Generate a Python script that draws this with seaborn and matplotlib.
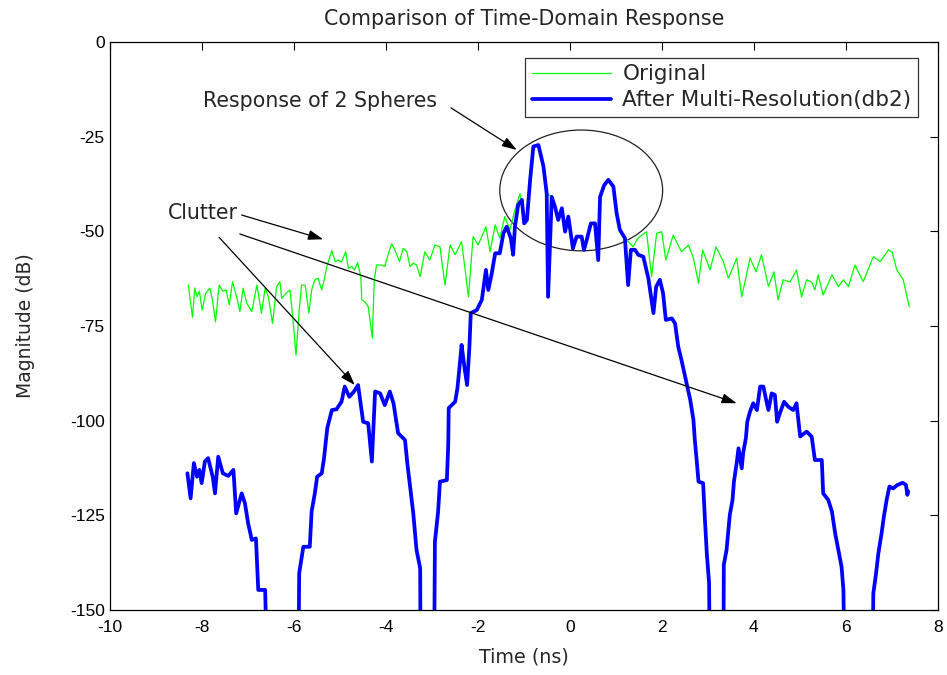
import numpy as np
import pandas as pd
import matplotlib
matplotlib.use("Agg")
import matplotlib.pyplot as plt
from matplotlib.patches import Ellipse
import seaborn as sns

# ---- data ----
orig_t = [-8.29, -8.20, -8.15, -8.10, -8.05, -7.99, -7.91, -7.82, -7.76, -7.70, -7.62, -7.54, -7.47, -7.40,
          -7.33, -7.24, -7.17, -7.10, -7.02, -6.91, -6.80, -6.70, -6.62, -6.55, -6.46, -6.37, -6.30, -6.26,
          -6.17, -6.08, -6.01, -5.95, -5.88, -5.83, -5.75, -5.67, -5.61, -5.54, -5.47, -5.39, -5.33, -5.28,
          -5.17, -5.10, -5.03, -4.96, -4.87, -4.81, -4.74, -4.68, -4.61, -4.54, -4.52, -4.45, -4.38, -4.29,
          -4.25, -4.20, -4.09, -4.02, -3.94, -3.87, -3.80, -3.70, -3.62, -3.54, -3.47, -3.40, -3.33, -3.25,
          -3.15, -3.04, -2.93, -2.82, -2.71, -2.60, -2.49, -2.35, -2.20, -2.10, -1.99, -1.82, -1.73, -1.62,
          -1.52, -1.41, -1.30, -1.19, -1.08, -0.99, -0.93, -0.86, -0.79, -0.68, -0.57, -0.50, -0.39, -0.32,
          -0.25, -0.17, -0.10, -0.03, 0.07, 0.15, 0.26, 0.31, 0.37, 0.46, 0.55, 0.62, 0.66, 0.75, 0.84,
          0.95, 1.02, 1.09, 1.20, 1.38, 1.48, 1.67, 1.78, 1.89, 2.00, 2.09, 2.25, 2.43, 2.58, 2.69, 2.80,
          2.89, 3.05, 3.18, 3.34, 3.45, 3.63, 3.74, 3.92, 4.05, 4.17, 4.32, 4.44, 4.53, 4.64, 4.79, 4.93,
          5.04, 5.15, 5.26, 5.33, 5.40, 5.51, 5.70, 5.84, 5.95, 6.06, 6.20, 6.38, 6.60, 6.75, 6.93, 7.01,
          7.11, 7.25, 7.38]
orig_db = [-64.2, -72.7, -65.0, -67.3, -65.8, -70.8, -66.3, -65.0, -68.6, -73.9, -64.2, -65.8, -65.5, -69.4,
           -63.3, -67.3, -71.2, -65.0, -69.0, -71.2, -64.2, -71.6, -65.0, -67.3, -74.3, -64.6, -63.3, -67.7,
           -66.4, -65.5, -73.9, -82.7, -70.8, -64.2, -64.2, -71.6, -65.5, -62.8, -62.4, -65.5, -62.4, -59.3,
           -55.1, -58.0, -57.6, -58.1, -55.4, -59.8, -59.3, -60.2, -58.3, -62.0, -68.1, -68.6, -69.9, -78.2,
           -63.3, -58.9, -58.9, -59.3, -55.8, -53.3, -54.9, -58.0, -54.5, -55.4, -59.3, -58.4, -58.9, -62.0,
           -55.4, -57.6, -53.6, -54.1, -64.2, -53.6, -56.2, -52.7, -67.3, -51.4, -53.6, -48.8, -55.4, -48.3,
           -51.8, -46.1, -49.6, -44.4, -40.0, -47.9, -47.0, -36.4, -27.6, -27.2, -32.9, -40.0, -40.9, -43.5,
           -47.0, -43.9, -50.1, -46.1, -54.5, -51.4, -51.4, -54.9, -52.3, -47.9, -47.9, -57.6, -40.9, -37.8, -36.4,
           -38.2, -45.2, -49.6, -51.8, -54.1, -51.8, -50.1, -62.0, -50.5, -50.1, -57.6, -51.0, -55.4, -53.6, -57.1, -63.7,
           -54.9, -60.2, -54.1, -58.0, -62.4, -57.1, -67.3, -57.1, -60.7, -56.2, -64.6, -60.7, -68.1, -62.8, -63.4, -60.2,
           -67.3, -62.8, -63.4, -65.5, -61.5, -66.8, -61.5, -64.6, -62.8, -64.6, -58.9, -63.3, -56.7, -58.0, -54.9, -55.5,
           -60.2, -62.8, -69.9]

mr_t = [-8.31, -8.24, -8.17, -8.10, -8.05, -8.00, -7.93, -7.86, -7.76, -7.71, -7.64, -7.54, -7.42, -7.31,
        -7.25, -7.13, -7.06, -6.99, -6.91, -6.82, -6.77, -6.62, -6.57, -5.90, -5.88, -5.79, -5.65, -5.61,
        -5.54, -5.49, -5.39, -5.34, -5.27, -5.17, -5.07, -4.96, -4.89, -4.79, -4.69, -4.60, -4.49, -4.38,
        -4.30, -4.23, -4.12, -4.02, -3.91, -3.83, -3.73, -3.58, -3.53, -3.47, -3.40, -3.33, -3.25, -3.24,
        -2.95, -2.93, -2.86, -2.82, -2.67, -2.64, -2.63, -2.49, -2.44, -2.38, -2.35, -2.28, -2.23, -2.18,
        -2.15, -2.02, -1.91, -1.82, -1.77, -1.70, -1.62, -1.52, -1.44, -1.37, -1.28, -1.23, -1.19, -1.12,
        -1.04, -0.99, -0.93, -0.86, -0.79, -0.68, -0.57, -0.50, -0.47, -0.39, -0.32, -0.25, -0.17, -0.10,
        -0.03, 0.07, 0.15, 0.26, 0.31, 0.37, 0.46, 0.55, 0.62, 0.66, 0.75, 0.84, 0.95, 1.02, 1.09, 1.20,
        1.27, 1.33, 1.42, 1.49, 1.60, 1.71, 1.82, 1.88, 1.96, 2.03, 2.09, 2.22, 2.29, 2.36, 2.43, 2.54,
        2.62, 2.69, 2.72, 2.76, 2.80, 2.90, 2.94, 2.98, 3.03, 3.05, 3.34, 3.35, 3.41, 3.45, 3.48, 3.54,
        3.57, 3.63, 3.67, 3.74, 3.77, 3.83, 3.86, 3.92, 3.99, 4.07, 4.14, 4.21, 4.27, 4.32, 4.39, 4.46,
        4.51, 4.57, 4.66, 4.75, 4.86, 4.93, 5.01, 5.15, 5.26, 5.33, 5.48, 5.51, 5.62, 5.70, 5.77, 5.84,
        5.91, 5.95, 5.98, 6.58, 6.60, 6.66, 6.71, 6.78, 6.83, 6.89, 6.95, 7.03, 7.12, 7.24, 7.31, 7.34, 7.36]
mr_db = [-113.9, -120.5, -111.2, -114.8, -113.0, -116.5, -110.8, -109.9, -114.8, -119.2, -109.5, -113.9, -114.6, -113.0,
         -124.5, -119.2, -121.8, -127.1, -131.5, -131.1, -144.7, -144.7, -170.0, -170.0, -140.3, -133.3, -133.3, -124.0,
         -119.2, -114.8, -113.9, -109.9, -102.0, -97.2, -97.0, -95.0, -91.0, -93.7, -92.3, -90.6, -100.3, -100.7,
         -110.8, -92.3, -92.8, -95.9, -92.3, -95.4, -103.3, -105.1, -111.2, -117.4, -124.5, -134.1, -139.0, -170.0,
         -170.0, -132.0, -124.0, -116.1, -115.7, -106.4, -96.7, -95.0, -91.4, -84.0, -80.0, -86.6, -90.6, -80.5,
         -71.6, -70.8, -68.1, -60.2, -65.5, -61.5, -55.8, -55.8, -50.5, -48.8, -51.8, -56.2, -48.8, -43.0,
         -41.7, -47.9, -47.0, -36.4, -27.6, -27.2, -32.9, -40.0, -67.3, -40.9, -43.5, -47.0, -43.9, -50.1,
         -46.1, -54.5, -51.4, -51.4, -54.9, -52.3, -47.9, -47.9, -57.6, -40.9, -37.8, -36.4, -38.2, -45.2, -49.6, -51.8,
         -64.2, -54.9, -54.9, -56.2, -56.7, -62.4, -71.6, -64.6, -62.8, -66.4, -73.4, -73.0, -74.3, -80.5, -84.0, -90.1,
         -94.5, -99.8, -105.1, -110.4, -116.1, -116.5, -126.2, -135.0, -142.9, -170.0, -170.0, -138.1, -134.1, -128.9, -124.9, -120.9,
         -116.1, -111.2, -107.3, -112.6, -108.6, -104.6, -100.3, -97.6, -95.4, -97.2, -91.0, -91.0, -94.5, -97.2, -92.8, -93.2,
         -100.3, -98.0, -95.0, -96.3, -97.2, -95.4, -104.2, -102.9, -104.2, -110.4, -110.4, -119.2, -120.9, -124.0, -129.7, -134.1,
         -138.6, -144.7, -170.0, -170.0, -145.6, -140.3, -135.0, -129.7, -125.3, -120.9, -117.4, -117.9, -117.0, -116.4, -117.0, -119.6, -118.7]

series_names = ["Original", "After Multi-Resolution(db2)"]
x_ticks = [-10, -8, -6, -4, -2, 0, 2, 4, 6, 8]
y_ticks = [0, -25, -50, -75, -100, -125, -150]

df = pd.DataFrame({
    "t": orig_t + mr_t,
    "db": orig_db + mr_db,
    "series": [series_names[0]] * len(orig_t) + [series_names[1]] * len(mr_t),
})

sns.set_style("white")
plt.rcParams["font.family"] = ["Liberation Sans", "DejaVu Sans"]
TXT = ["DejaVu Sans"]

fig = plt.figure(figsize=(9.47, 6.75), dpi=100)
ax = fig.add_axes([0.1158, 0.0963, 0.8744, 0.8415])

palette = {series_names[0]: "#00ff00", series_names[1]: "#0000ff"}
sns.lineplot(data=df, x="t", y="db", hue="series", palette=palette, sort=False,
             estimator=None, size="series", sizes={series_names[0]: 0.9, series_names[1]: 2.7},
             ax=ax, legend=True)

ax.set_xlim(-10, 8)
ax.set_ylim(-150, 0)
ax.set_xticks(x_ticks)
ax.set_yticks(y_ticks)
ax.set_xticklabels([str(v) for v in x_ticks])
ax.set_yticklabels([str(v) for v in y_ticks])
ax.tick_params(direction="in", top=True, right=True, length=6, width=0.8,
               labelsize=12.5, colors="black")
ax.tick_params(axis="x", pad=7)
for s in ax.spines.values():
    s.set_visible(True)
    s.set_color("black")
    s.set_linewidth(0.9)

ax.set_xlabel("Time (ns)", fontsize=13.8, family=TXT, labelpad=9)
ax.set_ylabel("Magnitude (dB)", fontsize=13.5, family=TXT, labelpad=25)
ax.set_title("Comparison of Time-Domain Response", fontsize=14.9, family=TXT, pad=12)

leg = ax.legend(loc="upper right", bbox_to_anchor=(0.976, 0.972),
                prop={"family": TXT, "size": 15.5},
                frameon=True, fancybox=False, edgecolor="black", handlelength=3.7,
                borderpad=0.3, labelspacing=0.28, handletextpad=0.5, borderaxespad=0)
leg.get_frame().set_linewidth(0.9)
hl = leg.get_lines()
if len(hl) == 2:
    hl[0].set_linewidth(0.9)
    hl[1].set_linewidth(2.7)

# ellipse round the two sphere responses
ax.add_patch(Ellipse((0.25, -39.2), 3.54, 31.9, fill=False, edgecolor="#222222", lw=0.9))

arrowprops = dict(arrowstyle="-|>,head_length=0.9,head_width=0.3", color="black", lw=0.9,
                  shrinkA=0, shrinkB=0)
ax.text(-7.97, -15.6, "Response of 2 Spheres", fontsize=14.8, family=TXT, va="center", ha="left")
ax.annotate("", xy=(-1.15, -28.5), xytext=(-2.58, -17.4), arrowprops=arrowprops)

ax.text(-8.73, -45.2, "Clutter", fontsize=14.8, family=TXT, va="center", ha="left")
ax.annotate("", xy=(-5.36, -52.1), xytext=(-7.13, -45.7), arrowprops=arrowprops)
ax.annotate("", xy=(3.63, -95.4), xytext=(-7.17, -50.7), arrowprops=arrowprops)
ax.annotate("", xy=(-4.67, -90.6), xytext=(-7.62, -51.6), arrowprops=arrowprops)

fig.savefig("out.png", dpi=100)
